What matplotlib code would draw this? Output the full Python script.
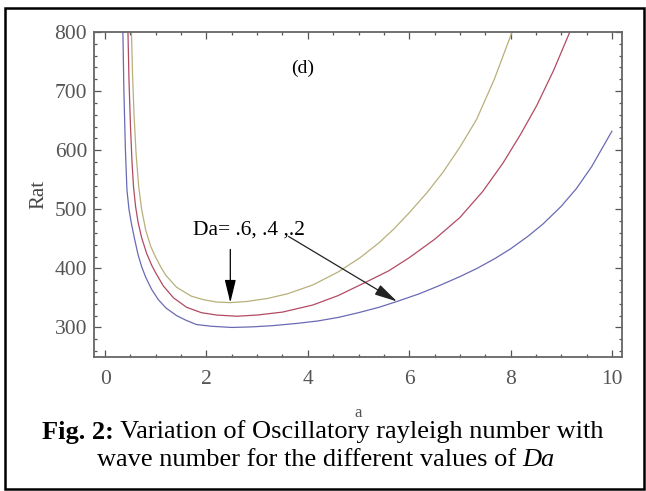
import matplotlib
matplotlib.use('Agg')
import matplotlib.pyplot as plt
from matplotlib.patches import Rectangle
from matplotlib.ticker import MultipleLocator

# wave number a and oscillatory Rayleigh number
a_da2 = [0.35, 0.37, 0.40, 0.43, 0.47, 0.52, 0.58, 0.65, 0.72, 0.80, 0.92, 1.05,
         1.20, 1.41, 1.60, 1.80, 2.10, 2.50, 2.90, 3.30, 3.80, 4.20, 4.60, 5.00,
         5.40, 5.76, 6.20, 6.60, 7.00, 7.34, 7.70, 8.00, 8.34, 8.64, 9.00, 9.30,
         9.60, 10.00]
rat_da2 = [800, 700, 600, 533, 500, 475, 450, 423, 403, 385, 364, 347,
           333, 320, 312, 305, 302, 300, 301, 303, 307, 311, 317, 325,
           334, 344, 357, 371, 386, 400, 417, 433, 454, 475, 505, 535,
           572, 632]

a_da4 = [0.45, 0.47, 0.50, 0.53, 0.56, 0.60, 0.65, 0.72, 0.82, 0.92, 1.00, 1.15,
         1.35, 1.61, 1.90, 2.20, 2.60, 3.00, 3.50, 4.10, 4.60, 5.13, 5.60, 6.00,
         6.50, 7.00, 7.45, 7.85, 8.20, 8.52, 8.85, 9.17]
rat_da4 = [800, 720, 640, 580, 538, 505, 478, 452, 425, 405, 392, 370,
           350, 334, 325, 321, 319, 321, 326, 338, 354, 376, 396, 418,
           449, 486, 530, 578, 627, 676, 735, 800]

a_da6 = [0.52, 0.54, 0.57, 0.61, 0.66, 0.72, 0.80, 0.90, 0.99, 1.10, 1.20, 1.41,
         1.70, 1.94, 2.20, 2.47, 2.80, 3.20, 3.60, 4.10, 4.60, 5.03, 5.40, 5.69,
         6.00, 6.35, 6.67, 7.00, 7.33, 7.68, 8.03]
rat_da6 = [800, 730, 660, 595, 540, 500, 465, 437, 420, 402, 388, 368,
           353, 347, 343, 342, 344, 349, 357, 372, 394, 418, 443, 466,
           494, 528, 563, 605, 652, 720, 800]

SERIF = 'Liberation Serif'

fig = plt.figure(figsize=(6.46, 4.91), dpi=100)
ax = fig.add_axes([94 / 646, 1 - 357 / 491, 528 / 646, 325 / 491])

ax.plot(a_da2, rat_da2, color='#6a6ab4', lw=0.9)
ax.plot(a_da4, rat_da4, color='#b24a62', lw=0.9)
ax.plot(a_da6, rat_da6, color='#b8b07a', lw=0.9)

ax.set_xlim(-0.22, 10.2)
ax.set_ylim(250, 800)

ax.xaxis.set_major_locator(MultipleLocator(2))
ax.xaxis.set_minor_locator(MultipleLocator(0.5))
ax.yaxis.set_major_locator(MultipleLocator(100))
ax.yaxis.set_minor_locator(MultipleLocator(20))
ax.tick_params(which='both', direction='in', top=True, right=True,
               color='#555555', width=0.9)
ax.tick_params(which='major', length=5)
ax.tick_params(which='minor', length=2.5)
ax.tick_params(axis='x', which='major', pad=9)
ax.tick_params(axis='y', which='major', pad=5)
for lab in ax.get_xticklabels() + ax.get_yticklabels():
    lab.set_fontfamily(SERIF)
    lab.set_fontsize(15.5)
    lab.set_color('#555555')
for sp in ax.spines.values():
    sp.set_color('#666666')
    sp.set_linewidth(1.3)

ax.set_xlabel('a', family=SERIF, fontsize=12, color='#555555', labelpad=12)
ax.set_ylabel('Rat', family=SERIF, fontsize=15, color='#444444', labelpad=4)

ax.text(3.9, 738, '(d)', family=SERIF, fontsize=14, ha='center', va='center')
ax.text(1.74, 465, 'Da= .6, .4 ,.2', family=SERIF, fontsize=15.5, ha='left', va='center')
arrow_style = '-|>,head_length=0.7,head_width=0.17'
ax.annotate('', xy=(2.47, 342), xytext=(2.47, 432),
            arrowprops=dict(arrowstyle=arrow_style, color='black', lw=0.9,
                            mutation_scale=20, shrinkA=0, shrinkB=0))
ax.annotate('', xy=(5.76, 344), xytext=(3.62, 454),
            arrowprops=dict(arrowstyle=arrow_style, color='#222222', lw=0.9,
                            mutation_scale=20, shrinkA=0, shrinkB=0))

# caption
t1 = fig.text(42 / 646, 1 - 432 / 491, 'Fig. 2:', family=SERIF, fontsize=19,
              weight='bold', va='center')
ax.annotate(' Variation of Oscillatory rayleigh number with', xy=(1, 0.5),
            xycoords=t1, va='center', ha='left', family=SERIF, fontsize=19,
            annotation_clip=False)
t3 = fig.text(97 / 646, 1 - 460 / 491, 'wave number for the different values of ',
              family=SERIF, fontsize=19, va='center')
ax.annotate('Da', xy=(1, 0.5), xycoords=t3, va='center', ha='left',
            family=SERIF, fontsize=19, style='italic', annotation_clip=False)

# outer frame around figure and caption
fig.patches.append(Rectangle((5 / 646, 2 / 491), 639 / 646, 481 / 491,
                             transform=fig.transFigure, fill=False,
                             edgecolor='black', lw=1.8))

fig.savefig('out.png', dpi=100)
